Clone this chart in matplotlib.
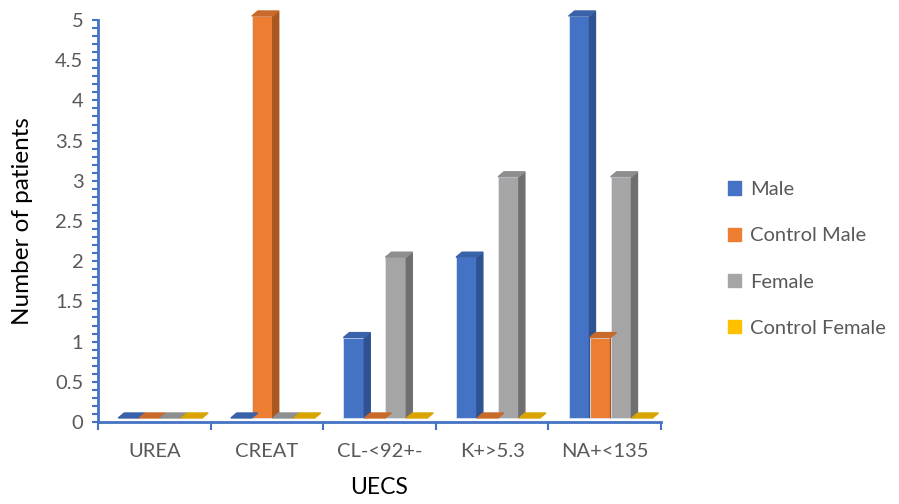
import matplotlib.pyplot as plt
import numpy as np
from matplotlib.patches import Polygon, Patch
from matplotlib.ticker import MultipleLocator, FormatStrFormatter

categories = ['UREA', 'CREAT', 'CL-<92+-', 'K+>5.3', 'NA+<135']
series_names = ['Male', 'Control Male', 'Female', 'Control Female']
male = [0, 0, 1, 2, 5]
control_male = [0, 5, 0, 0, 1]
female = [0, 0, 2, 3, 3]
control_female = [0, 0, 0, 0, 0]
y_ticks = [0, 0.5, 1, 1.5, 2, 2.5, 3, 3.5, 4, 4.5, 5]

front = ['#4472C4', '#ED7D31', '#A5A5A5', '#FFC000']
side = ['#2F5293', '#A9571F', '#6F6F6F', '#B88A00']
top = ['#3A62A8', '#C9692A', '#8E8E8E', '#D9A300']

plt.rcParams['font.family'] = ['Lato', 'DejaVu Sans']

fig = plt.figure(figsize=(8.99, 5.04), dpi=100)
ax = fig.add_axes([98 / 899, 82 / 504, 563 / 899, 402 / 504])

x = np.arange(len(categories))
offsets = [-0.32, -0.133, 0.053, 0.24]
width = 0.185
base = 0.05
dx, dy = 0.053, 0.062  # depth of the fake 3D faces

for values, off, fc, sc, tc in zip([male, control_male, female, control_female],
                                   offsets, front, side, top):
    for xi, v in zip(x, values):
        x0 = xi + off
        x1 = x0 + width
        y0, y1 = base, base + v
        if v > 0:
            ax.bar(x0, v, width=width, bottom=base, align='edge', color=fc,
                   edgecolor='#DCE4F2', linewidth=0.6, zorder=3, clip_on=False)
            ax.add_patch(Polygon([(x1, y0), (x1 + dx, y0 + dy), (x1 + dx, y1 + dy), (x1, y1)],
                                 closed=True, color=sc, zorder=3, clip_on=False))
        ax.add_patch(Polygon([(x0, y1), (x1, y1), (x1 + dx, y1 + dy), (x0 + dx, y1 + dy)],
                             closed=True, color=tc, zorder=4, clip_on=False))

ax.set_xlim(-0.5, 4.5)
ax.set_ylim(0, 5)

axis_blue = '#4472C4'
for s in ['top', 'right']:
    ax.spines[s].set_visible(False)
for s in ['left', 'bottom']:
    ax.spines[s].set_color(axis_blue)
    ax.spines[s].set_linewidth(2)

ax.set_yticks(y_ticks)
ax.yaxis.set_major_formatter(FormatStrFormatter('%g'))
ax.yaxis.set_minor_locator(MultipleLocator(0.1))
ax.tick_params(axis='y', which='both', direction='out', length=4.5, width=1.5,
               color=axis_blue, labelsize=14.5, labelcolor='#595959', pad=6)

# category boundary ticks on the x axis, labels centred between them
ax.set_xticks(np.arange(-0.5, 5.0, 1.0))
ax.set_xticklabels([])
ax.set_xticks(x, minor=True)
ax.set_xticklabels(categories, minor=True)
ax.tick_params(axis='x', which='major', direction='out', length=6, width=1.5, color=axis_blue)
ax.tick_params(axis='x', which='minor', length=0, labelsize=14.5, labelcolor='#595959', pad=15)

ax.set_ylabel('Number of patients', fontsize=17.5, color='black', labelpad=16)
ax.set_xlabel('UECS', fontsize=16.5, color='black', labelpad=12)

handles = [Patch(color=c, label=n) for c, n in zip(front, series_names)]
fig.legend(handles=handles, loc='upper left', bbox_to_anchor=(710 / 899, 1 - 163 / 504),
           frameon=False, fontsize=14.5, labelcolor='#595959', handlelength=0.65,
           handleheight=0.65, handletextpad=0.45, labelspacing=1.45)

fig.savefig('out.png', dpi=100)
